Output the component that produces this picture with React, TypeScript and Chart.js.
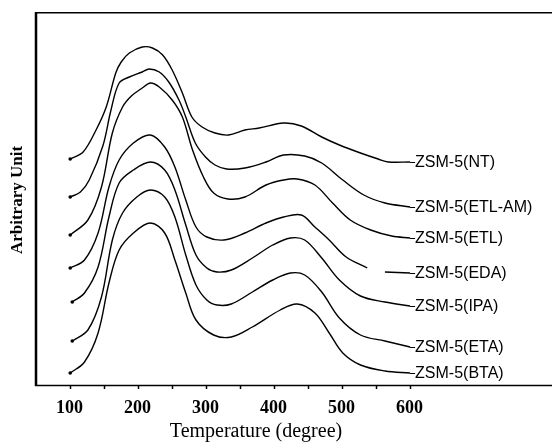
import React, { useEffect, useRef } from "react";
import { Chart, registerables } from "chart.js";

Chart.register(...registerables);

// Temperature (degree) samples and arbitrary-unit signal per sample
const seriesNames = ["ZSM-5(NT)", "ZSM-5(ETL-AM)", "ZSM-5(ETL)", "ZSM-5(EDA)", "ZSM-5(IPA)", "ZSM-5(ETA)", "ZSM-5(BTA)"];

const tempNT = [100, 119, 138, 153, 167, 175, 187, 206, 221, 236, 250, 265, 279, 294, 313, 333, 357, 378, 414, 440, 470, 496, 527, 553, 568, 600];
const sigNT = [226, 233, 255, 278, 312, 323, 332, 338, 337, 330, 315, 292, 268, 258, 252, 250, 255, 257, 262, 259, 248, 240, 232, 226, 223, 223];

const tempETLAM = [100, 115, 128, 148, 160, 172, 187, 206, 216, 231, 245, 260, 270, 284, 299, 313, 330, 357, 388, 414, 445, 470, 501, 532, 563, 600];
const sigETLAM = [188, 193, 205, 239, 275, 302, 308, 313, 316, 313, 303, 285, 268, 242, 228, 220, 216, 217, 223, 230, 229, 222, 205, 190, 182, 178];

const tempETL = [100, 126, 146, 162, 177, 190, 206, 218, 231, 250, 265, 280, 296, 311, 332, 357, 388, 414, 434, 460, 486, 512, 542, 573, 600];
const sigETL = [150, 165, 198, 252, 278, 289, 297, 302, 298, 285, 268, 235, 208, 192, 186, 188, 200, 205, 206, 200, 182, 165, 155, 149, 147];

const tempEDA = [100, 121, 141, 157, 172, 193, 218, 239, 254, 270, 285, 301, 326, 357, 388, 414, 440, 460, 481, 506, 537, 548, 563, 600];
const sigEDA = [117, 125, 152, 198, 225, 242, 250, 238, 218, 185, 158, 148, 145, 152, 162, 168, 170, 158, 145, 128, 117, null, 113, 112];

const tempIPA = [103, 121, 141, 157, 172, 193, 218, 239, 254, 270, 285, 301, 316, 337, 368, 398, 424, 445, 470, 496, 527, 563, 600];
const sigIPA = [83, 92, 118, 168, 202, 215, 223, 215, 195, 160, 130, 117, 113, 115, 127, 140, 147, 145, 127, 105, 89, 83, 79];

const tempETA = [103, 126, 146, 162, 177, 198, 218, 239, 254, 270, 285, 301, 316, 337, 368, 398, 424, 445, 470, 496, 527, 563, 600];
const sigETA = [44, 55, 88, 145, 172, 188, 195, 188, 168, 130, 100, 85, 80, 81, 93, 105, 112, 110, 93, 67, 50, 44, 38];

const tempBTA = [100, 121, 141, 157, 172, 193, 218, 239, 254, 270, 285, 311, 337, 368, 409, 434, 460, 481, 501, 527, 563, 600];
const sigBTA = [12, 23, 52, 102, 135, 152, 162, 152, 125, 92, 65, 50, 48, 58, 75, 81, 72, 52, 32, 20, 14, 12];

const xTickValues = [100, 150, 200, 250, 300, 350, 400, 450, 500, 550, 600];
const xTickLabels = ["100", "", "200", "", "300", "", "400", "", "500", "", "600"];

const xTitle = "Temperature (degree)";
const yTitle = "Arbitrary Unit";

const allTemps = [tempNT, tempETLAM, tempETL, tempEDA, tempIPA, tempETA, tempBTA];
const allSigs = [sigNT, sigETLAM, sigETL, sigEDA, sigIPA, sigETA, sigBTA];

const SERIF = '"Liberation Serif", "Times New Roman", serif';
const SANS = '"Liberation Sans", Arial, sans-serif';

const decorPlugin = {
  id: "decor",
  afterDraw(chart: any) {
    const { ctx, chartArea, scales } = chart;
    const xs = scales.x;
    const W = chart.width;
    ctx.save();
    ctx.strokeStyle = "#000";
    // frame: left, top, bottom (right side runs off the picture)
    ctx.lineWidth = 2.5;
    ctx.beginPath();
    ctx.moveTo(chartArea.left + 1, chartArea.top);
    ctx.lineTo(chartArea.left + 1, chartArea.bottom + 1);
    ctx.stroke();
    ctx.lineWidth = 1.5;
    ctx.beginPath();
    ctx.moveTo(chartArea.left, chartArea.top + 0.75);
    ctx.lineTo(W, chartArea.top + 0.75);
    ctx.moveTo(chartArea.left, chartArea.bottom + 0.5);
    ctx.lineTo(W, chartArea.bottom + 0.5);
    ctx.stroke();

    // ticks and tick labels
    ctx.fillStyle = "#000";
    ctx.font = `bold 18px ${SERIF}`;
    ctx.textAlign = "center";
    ctx.textBaseline = "middle";
    xTickValues.forEach((v, i) => {
      const px = Math.round(xs.getPixelForValue(v)) + 0.5;
      ctx.lineWidth = 1.5;
      ctx.beginPath();
      ctx.moveTo(px, chartArea.bottom + 1);
      ctx.lineTo(px, chartArea.bottom + 4);
      ctx.stroke();
      if (xTickLabels[i]) ctx.fillText(xTickLabels[i], px - 1, chartArea.bottom + 23);
    });

    // axis titles
    ctx.font = `20px ${SERIF}`;
    ctx.fillText(xTitle, 256, chartArea.bottom + 47);
    ctx.save();
    ctx.translate(18, 200);
    ctx.rotate(-Math.PI / 2);
    ctx.font = `bold 17px ${SERIF}`;
    ctx.fillText(yTitle, 0, 0);
    ctx.restore();

    // series labels at the end of each curve
    ctx.font = `16px ${SANS}`;
    ctx.textAlign = "left";
    chart.data.datasets.forEach((ds: any, i: number) => {
      const meta = chart.getDatasetMeta(i);
      const pts = meta.data;
      const last = pts[pts.length - 1];
      ctx.lineWidth = 1;
      ctx.beginPath();
      ctx.moveTo(last.x, last.y + 0.5);
      ctx.lineTo(last.x + 5, last.y + 0.5);
      ctx.stroke();
      ctx.fillText(ds.label, last.x + 5, last.y + 1);
    });
    ctx.restore();
  },
};

export default function App() {
  const ref = useRef<HTMLCanvasElement>(null);
  useEffect(() => {
    if (!ref.current) return;
    const datasets = seriesNames.map((name, i) => ({
      label: name,
      data: allTemps[i].map((t, j) => ({ x: t, y: allSigs[i][j] })),
      borderColor: "#000",
      backgroundColor: "#000",
      borderWidth: 1.4,
      tension: 0.35,
      spanGaps: false,
      pointRadius: (c: any) => (c.dataIndex === 0 ? 1.8 : 0),
      pointBorderWidth: 0,
      fill: false,
    }));
    const chart = new Chart(ref.current, {
      type: "line",
      data: { datasets },
      options: {
        responsive: false,
        animation: false,
        devicePixelRatio: 1,
        layout: { padding: { left: 35, top: 12, right: 0, bottom: 60 } },
        plugins: { legend: { display: false }, tooltip: { enabled: false } },
        scales: {
          x: { type: "linear", min: 48.2, max: 802.9, display: false },
          y: { type: "linear", min: 0, max: 373, display: false },
        },
      },
      plugins: [decorPlugin],
    });
    return () => chart.destroy();
  }, []);
  return (
    <div style={{ position: "absolute", left: 0, top: 0, width: 552, height: 445, background: "#fff" }}>
      <canvas ref={ref} width={552} height={445} style={{ display: "block" }} />
    </div>
  );
}
